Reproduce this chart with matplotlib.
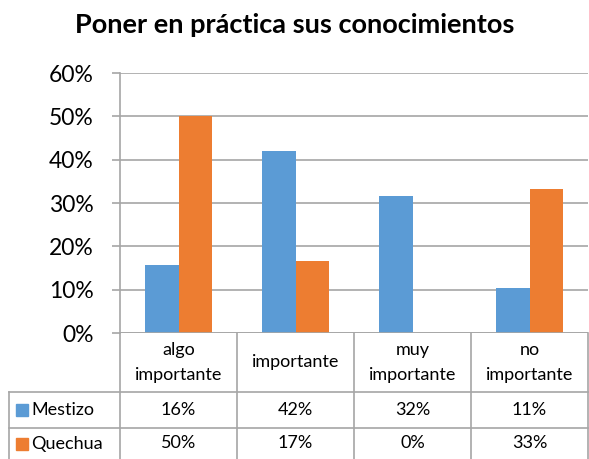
import matplotlib

matplotlib.use("Agg")
import matplotlib.pyplot as plt  # noqa: E402
import numpy as np  # noqa: E402
from matplotlib.patches import Rectangle  # noqa: E402
from matplotlib.ticker import PercentFormatter  # noqa: E402

categories = ["algo\nimportante", "importante", "muy\nimportante", "no\nimportante"]
series_names = ["Mestizo", "Quechua"]
mestizo = [15.8, 42.1, 31.6, 10.5]
quechua = [50.0, 16.7, 0.0, 33.3]
table_labels = {
    "Mestizo": ["16%", "42%", "32%", "11%"],
    "Quechua": ["50%", "17%", "0%", "33%"],
}
colors = ["#5B9BD5", "#ED7D31"]
title = "Poner en práctica sus conocimientos"

plt.rcParams["font.family"] = ["Lato", "DejaVu Sans"]
W, H = 589, 459
fig = plt.figure(figsize=(W / 100, H / 100), dpi=100)
ax = fig.add_axes([120 / W, 1 - 333 / H, 468 / W, 260 / H])

grid_c = "#A6A6A6"
x = np.arange(len(categories))
bw = 1 / 3.5
for i, (vals, c) in enumerate(zip([mestizo, quechua], colors)):
    ax.bar(x + (i - 0.5) * bw, vals, width=bw, color=c, zorder=3)

ax.set_xlim(-0.5, len(categories) - 0.5)
ax.set_ylim(0, 60)
ax.set_yticks(np.arange(0, 61, 10))
ax.yaxis.set_major_formatter(PercentFormatter(decimals=0))
ax.yaxis.grid(True, color=grid_c, lw=1.2, zorder=0)
ax.set_xticks([])
for s in ["top", "right", "bottom"]:
    ax.spines[s].set_visible(False)
ax.spines["left"].set_color(grid_c)
ax.spines["left"].set_linewidth(1.2)
ax.tick_params(axis="y", length=6, color=grid_c, width=1.2, labelsize=16.5, pad=13)
ax.axhline(0, color=grid_c, lw=1.2, zorder=4)

fig.text(0.5, 1 - 25 / H, title, ha="center", va="center", fontsize=19.5, fontweight="bold")

# data table under the axes (axes-fraction rows, data x)
tr = ax.get_xaxis_transform()
row_y = [0, -59 / 260, -95 / 260, -126 / 260]
lx = -0.5 - (111 / 117)
line_kw = dict(color=grid_c, lw=1.2, clip_on=False, transform=tr)
for b in np.arange(-0.5, len(categories), 1.0):
    ax.plot([b, b], [row_y[0], row_y[3]], **line_kw)
for yy in row_y[1:3]:
    ax.plot([lx, len(categories) - 0.5], [yy, yy], **line_kw)
ax.plot([lx, lx], [row_y[1], row_y[3]], **line_kw)

for i, cat in enumerate(categories):
    ax.text(i, (row_y[0] + row_y[1]) / 2, cat, transform=tr, ha="center", va="center",
            fontsize=13, linespacing=1.65)
for r, (name, c) in enumerate(zip(series_names, colors)):
    yc = (row_y[r + 1] + row_y[r + 2]) / 2
    ax.add_patch(Rectangle((-0.5 - 104 / 117, yc - 6 / 260), 12 / 117, 12 / 260, color=c,
                           transform=tr, clip_on=False))
    ax.text(-0.5 - 89 / 117, yc, name, transform=tr, ha="left", va="center", fontsize=13)
    for i, lab in enumerate(table_labels[name]):
        ax.text(i, yc, lab, transform=tr, ha="center", va="center", fontsize=13)

fig.savefig("out.png", dpi=100)
